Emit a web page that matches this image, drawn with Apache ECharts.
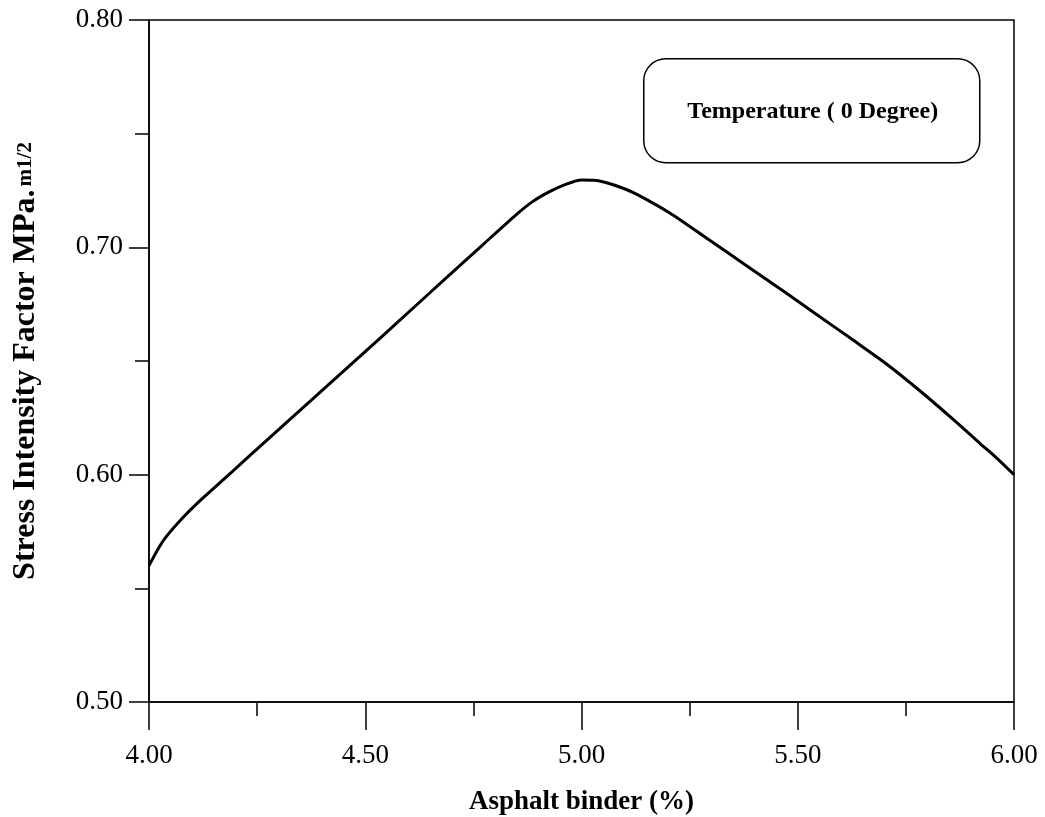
<!DOCTYPE html>
<html>
<head>
<meta charset="utf-8">
<script src="https://cdn.jsdelivr.net/npm/echarts@6/dist/echarts.min.js"></script>
<style>html,body{margin:0;padding:0;background:#fff}#c{width:1045px;height:817px}</style>
</head>
<body>
<div id="c"></div>
<script>
const binderPct = [4.000, 4.020, 4.039, 4.077, 4.115, 4.154, 4.231, 4.308, 4.385, 4.462, 4.539, 4.616, 4.693, 4.771, 4.848, 4.886, 4.925, 4.962, 5.000, 5.030, 5.058, 5.093, 5.128, 5.205, 5.282, 5.390, 5.474, 5.551, 5.628, 5.706, 5.783, 5.860, 5.921, 5.960, 6.000];
const stressFactor = [0.5600, 0.5670, 0.5725, 0.5808, 0.5880, 0.5947, 0.6080, 0.6212, 0.6344, 0.6476, 0.6608, 0.6742, 0.6876, 0.7010, 0.7142, 0.7200, 0.7244, 0.7276, 0.7296, 0.7295, 0.7284, 0.7262, 0.7233, 0.7150, 0.7050, 0.6908, 0.6798, 0.6695, 0.6592, 0.6486, 0.6368, 0.6242, 0.6138, 0.6073, 0.6000];
const xTitle = 'Asphalt binder (%)';
const yTitleMain = 'Stress Intensity Factor MPa.';
const yTitleSub = 'm1/2';
const legendText = 'Temperature ( 0 Degree)';

const FONT = '"Liberation Serif", "Times New Roman", serif';
const chart = echarts.init(document.getElementById('c'), null, {renderer: 'canvas'});
chart.setOption({
  backgroundColor: '#fff',
  animation: false,
  grid: {left: 149, right: 31, top: 20, bottom: 115, show: true, borderColor: '#000', borderWidth: 1.5, backgroundColor: 'transparent', outerBoundsMode: 'none', containLabel: false},
  xAxis: {
    type: 'value', min: 4.0, max: 6.0, interval: 0.5,
    axisLine: {show: true, lineStyle: {color: '#000', width: 1.5}},
    axisTick: {show: true, length: 28, lineStyle: {color: '#000', width: 1.5}},
    minorTick: {show: true, splitNumber: 2, length: 14, lineStyle: {color: '#000', width: 1.5}},
    splitLine: {show: false},
    axisLabel: {margin: 40, fontFamily: FONT, fontSize: 27, color: '#000', formatter: v => v.toFixed(2)},
    name: xTitle, nameLocation: 'middle', nameGap: 87,
    nameTextStyle: {fontFamily: FONT, fontSize: 27, fontWeight: 'bold', color: '#000'}
  },
  yAxis: {
    type: 'value', min: 0.5, max: 0.8, interval: 0.1,
    axisLine: {show: true, lineStyle: {color: '#000', width: 1.5}},
    axisTick: {show: true, length: 20, lineStyle: {color: '#000', width: 1.5}},
    minorTick: {show: true, splitNumber: 2, length: 14, lineStyle: {color: '#000', width: 1.5}},
    splitLine: {show: false},
    axisLabel: {margin: 26, fontFamily: FONT, fontSize: 27, color: '#000', formatter: v => v.toFixed(2)},
    name: '{a|' + yTitleMain + '}{b|' + yTitleSub + '}',
    nameLocation: 'middle', nameGap: 107, nameRotate: 90,
    nameTextStyle: {
      fontFamily: FONT, color: '#000',
      rich: {
        a: {fontFamily: FONT, fontSize: 32, fontWeight: 'bold', color: '#000'},
        b: {fontFamily: FONT, fontSize: 21, fontWeight: 'bold', color: '#000', padding: [0, 0, 0, 3]}
      }
    }
  },
  graphic: [{
    type: 'group', left: 643, top: 58,
    children: [
      {type: 'rect', shape: {x: 0, y: 0, width: 336, height: 104, r: 22}, style: {fill: '#fff', stroke: '#000', lineWidth: 1.5}},
      {type: 'text', x: 169, y: 53, style: {text: legendText, fontFamily: FONT, fontSize: 24, fontWeight: 'bold', fill: '#000', align: 'center', verticalAlign: 'middle'}}
    ]
  }],
  series: [{
    type: 'line', smooth: 0.25, showSymbol: false, symbol: 'none',
    data: binderPct.map((x, i) => [x, stressFactor[i]]),
    lineStyle: {color: '#000', width: 3}
  }]
});
</script>
</body>
</html>
